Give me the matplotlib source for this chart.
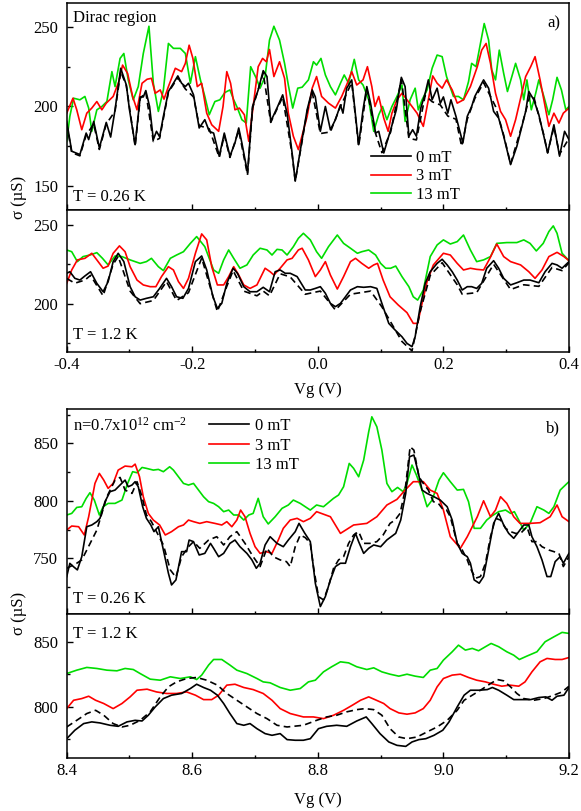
import matplotlib
matplotlib.use("Agg")
import matplotlib.pyplot as plt
from matplotlib.ticker import MultipleLocator, FuncFormatter
from matplotlib.lines import Line2D

plt.rcParams['font.family'] = ['Liberation Serif', 'DejaVu Serif']
plt.rcParams['font.size'] = 12
plt.rcParams['mathtext.fontset'] = 'custom'
plt.rcParams['mathtext.rm'] = 'Liberation Serif'
plt.rcParams['mathtext.it'] = 'Liberation Serif:italic'

# ---------------- panel a, T = 0.26 K ----------------
a_hi_k_x = [-0.400, -0.392, -0.379, -0.369, -0.365, -0.357, -0.348, -0.337, -0.330, -0.323, -0.314, -0.305,
            -0.300, -0.291, -0.283, -0.278, -0.274, -0.268, -0.262, -0.257, -0.252, -0.246, -0.238, -0.230,
            -0.223, -0.217, -0.211, -0.206, -0.198, -0.189, -0.180, -0.173, -0.166, -0.157, -0.149, -0.140,
            -0.132, -0.126, -0.121, -0.112, -0.104, -0.095, -0.087, -0.081, -0.075, -0.064, -0.056, -0.049,
            -0.041, -0.036, -0.026, -0.017, -0.009, -0.004, 0.004, 0.012, 0.020, 0.028, 0.036, 0.040, 0.046,
            0.054, 0.065, 0.072, 0.078, 0.084, 0.092, 0.097, 0.105, 0.116, 0.125, 0.133, 0.139, 0.145, 0.151,
            0.157, 0.164, 0.171, 0.176, 0.182, 0.190, 0.195, 0.200, 0.207, 0.212, 0.220, 0.231, 0.238, 0.245,
            0.250, 0.264, 0.272, 0.280, 0.288, 0.296, 0.307, 0.317, 0.325, 0.331, 0.336, 0.344, 0.352, 0.360,
            0.366, 0.376, 0.385, 0.393, 0.400]
a_hi_k_y = [190.6, 171.9, 169.8, 183.3, 179.2, 190.6, 174.0, 190.0, 180.8, 197.9, 224.0, 213.5,
            197.9, 176.0, 206.0, 206.0, 210.0, 200.0, 179.2, 184.4, 181.0, 193.8, 209.4, 214.6,
            219.2, 214.6, 212.5, 214.6, 207.3, 186.5, 191.7, 184.4, 183.3, 168.8, 183.3, 168.8,
            177.1, 186.5, 177.1, 158.3, 200.0, 210.4, 222.5, 218.8, 190.6, 200.0, 207.3, 195.8,
            170.8, 153.1, 177.0, 198.0, 210.4, 206.0, 184.4, 200.0, 185.4, 191.7, 201.0, 195.8, 211.5,
            216.7, 176.0, 198.0, 212.5, 202.0, 183.3, 184.4, 170.8, 185.4, 197.9, 218.3, 212.5, 181.3, 185.4,
            181.3, 199.0, 208.3, 216.7, 204.2, 211.5, 202.0, 206.0, 195.8, 204.2, 193.8, 177.1, 193.8, 200.0,
            206.3, 216.7, 211.5, 196.9, 192.7, 181.3, 163.5, 175.0, 187.5, 196.9, 209.4, 204.2, 194.8, 181.3,
            170.8, 188.5, 168.8, 184.4, 179.2]

a_hi_d_x = [-0.400, -0.392, -0.379, -0.369, -0.357, -0.348, -0.337, -0.323, -0.314, -0.305, -0.291, -0.283,
            -0.274, -0.262, -0.252, -0.238, -0.223, -0.211, -0.198, -0.189, -0.173, -0.157, -0.149, -0.140,
            -0.126, -0.112, -0.104, -0.087, -0.075, -0.056, -0.041, -0.036, -0.017, -0.009, 0.004, 0.020,
            0.036, 0.054, 0.065, 0.078, 0.092, 0.102, 0.116, 0.133, 0.145, 0.157, 0.171, 0.182, 0.195, 0.207,
            0.220, 0.229, 0.238, 0.250, 0.264, 0.283, 0.296, 0.307, 0.325, 0.338, 0.344, 0.360, 0.366, 0.376,
            0.385, 0.400]
a_hi_d_y = [189.0, 171.0, 169.0, 182.0, 189.0, 173.0, 189.0, 197.0, 222.0, 213.0, 175.0, 205.0,
            209.0, 178.0, 180.0, 209.0, 218.0, 211.0, 206.0, 188.0, 186.0, 168.0, 182.0, 168.0,
            185.0, 157.0, 199.0, 221.0, 190.0, 206.0, 170.0, 153.0, 197.0, 209.0, 183.0, 184.0,
            200.0, 215.0, 175.0, 211.0, 183.0, 171.0, 184.0, 217.0, 180.0, 179.0, 207.0, 203.0, 201.0, 194.0,
            192.0, 175.0, 192.0, 205.0, 215.0, 200.0, 182.0, 164.0, 188.0, 207.0, 206.0, 182.0, 171.0, 187.0,
            170.0, 180.0]

a_hi_r_x = [-0.400, -0.390, -0.384, -0.376, -0.368, -0.360, -0.352, -0.344, -0.337, -0.326, -0.317, -0.311,
            -0.303, -0.295, -0.288, -0.280, -0.272, -0.265, -0.259, -0.251, -0.245, -0.238, -0.227, -0.217,
            -0.211, -0.205, -0.199, -0.192, -0.185, -0.177, -0.169, -0.158, -0.151, -0.145, -0.139, -0.132,
            -0.125, -0.117, -0.110, -0.103, -0.095, -0.088, -0.082, -0.077, -0.070, -0.061, -0.053, -0.047,
            -0.039, -0.031, -0.017, -0.009, -0.002, 0.006, 0.017, 0.028, 0.038, 0.047, 0.054, 0.062, 0.072,
            0.079, 0.086, 0.091, 0.097, 0.105, 0.112, 0.118, 0.126, 0.134, 0.142, 0.150, 0.158, 0.168, 0.176,
            0.183, 0.190, 0.198, 0.205, 0.214, 0.222, 0.232, 0.243, 0.254, 0.261, 0.268, 0.275, 0.283, 0.291,
            0.299, 0.307, 0.315, 0.323, 0.331, 0.339, 0.346, 0.354, 0.360, 0.368, 0.376, 0.384, 0.391, 0.400]
a_hi_r_y = [195.8, 205.2, 197.9, 185.4, 195.8, 199.0, 203.1, 197.9, 202.1, 206.3, 215.6, 226.0,
            220.8, 206.3, 197.9, 214.6, 217.1, 217.7, 208.3, 210.4, 204.6, 212.5, 224.0, 221.9,
            227.1, 238.5, 230.2, 212.5, 214.6, 195.8, 188.5, 184.4, 200.0, 221.9, 214.6, 197.9,
            199.0, 194.8, 178.1, 200.0, 225.0, 230.2, 228.1, 235.8, 218.8, 228.1, 217.7, 195.8,
            181.3, 172.9, 193.8, 211.5, 218.8, 206.3, 202.1, 199.0, 206.3, 214.6, 221.9, 213.5, 216.7,
            225.0, 212.5, 200.0, 206.3, 192.7, 184.4, 195.8, 204.2, 208.3, 204.2, 200.0, 195.8, 187.5, 204.2,
            219.2, 214.6, 211.5, 216.7, 210.4, 202.1, 204.2, 212.5, 225.0, 235.4, 239.6, 227.1, 208.3, 196.9,
            191.7, 181.3, 191.7, 205.2, 218.8, 225.0, 231.3, 216.7, 204.2, 187.5, 195.8, 189.6, 195.8, 199.0]

a_hi_g_x = [-0.400, -0.395, -0.389, -0.379, -0.371, -0.365, -0.360, -0.352, -0.344, -0.336, -0.328, -0.323,
            -0.315, -0.309, -0.302, -0.294, -0.286, -0.278, -0.269, -0.262, -0.254, -0.246, -0.238, -0.230,
            -0.219, -0.211, -0.203, -0.195, -0.187, -0.180, -0.173, -0.164, -0.156, -0.148, -0.140, -0.134,
            -0.128, -0.121, -0.114, -0.107, -0.098, -0.092, -0.084, -0.077, -0.070, -0.061, -0.053, -0.047,
            -0.040, -0.032, -0.025, -0.015, -0.007, -0.002, 0.005, 0.012, 0.020, 0.028, 0.036, 0.042, 0.049,
            0.058, 0.065, 0.072, 0.081, 0.089, 0.097, 0.103, 0.110, 0.118, 0.126, 0.134, 0.139, 0.147, 0.155,
            0.160, 0.166, 0.174, 0.182, 0.190, 0.198, 0.205, 0.216, 0.224, 0.232, 0.240, 0.245, 0.252, 0.259,
            0.265, 0.272, 0.277, 0.283, 0.289, 0.296, 0.302, 0.309, 0.315, 0.323, 0.328, 0.333, 0.340, 0.347,
            0.352, 0.360, 0.368, 0.374, 0.381, 0.388, 0.395, 0.400]
a_hi_g_y = [178.1, 193.8, 205.2, 204.2, 206.3, 199.0, 184.4, 197.9, 200.0, 203.1, 221.9, 212.5,
            230.2, 233.3, 216.7, 204.2, 212.5, 233.3, 250.4, 214.6, 196.9, 210.4, 239.6, 236.5,
            236.5, 233.3, 214.6, 231.3, 216.7, 206.3, 194.8, 203.1, 204.2, 208.8, 210.4, 204.2,
            199.0, 191.7, 189.6, 225.0, 217.7, 211.5, 218.8, 241.7, 250.4, 241.7, 227.1, 213.5,
            199.0, 211.5, 212.1, 216.7, 228.1, 226.0, 230.2, 219.8, 212.5, 207.3, 214.6, 219.8, 214.6,
            229.6, 216.7, 213.5, 204.2, 184.4, 194.8, 200.0, 191.7, 200.0, 206.3, 213.5, 190.6, 204.2, 211.5,
            197.9, 204.2, 210.4, 224.0, 232.3, 231.3, 218.8, 206.3, 206.3, 204.2, 215.6, 227.1, 225.0, 239.6,
            252.1, 241.7, 222.9, 216.7, 235.4, 220.8, 209.4, 218.8, 227.1, 216.7, 204.2, 216.7, 197.9, 208.3,
            216.7, 206.3, 194.8, 204.2, 218.3, 210.4, 197.9, 200.0]

# ---------------- panel a, T = 1.2 K ----------------
a_lo_k_x = [-0.400, -0.395, -0.387, -0.379, -0.371, -0.362, -0.352, -0.342, -0.334, -0.326, -0.318, -0.309,
            -0.299, -0.291, -0.283, -0.273, -0.262, -0.252, -0.241, -0.233, -0.225, -0.215, -0.206, -0.195,
            -0.185, -0.177, -0.167, -0.160, -0.153, -0.145, -0.135, -0.128, -0.118, -0.108, -0.097, -0.087,
            -0.077, -0.068, -0.060, -0.052, -0.044, -0.033, -0.020, -0.012, -0.004, 0.004, 0.012, 0.020,
            0.028, 0.036, 0.044, 0.052, 0.063, 0.073, 0.084, 0.094, 0.102, 0.113, 0.123, 0.134, 0.142, 0.150,
            0.155, 0.163, 0.171, 0.179, 0.190, 0.198, 0.206, 0.214, 0.222, 0.230, 0.238, 0.245, 0.253, 0.261,
            0.269, 0.280, 0.288, 0.296, 0.307, 0.317, 0.328, 0.338, 0.352, 0.362, 0.373, 0.381, 0.389, 0.400]
a_lo_k_y = [219.3, 220.3, 216.1, 215.0, 217.6, 220.3, 212.9, 207.6, 214.0, 226.7, 232.0, 226.7,
            210.8, 204.4, 202.3, 203.4, 204.4, 209.7, 216.1, 210.8, 204.4, 203.4, 209.7, 226.7,
            230.3, 221.4, 204.4, 197.0, 200.2, 212.9, 222.5, 219.3, 210.8, 207.6, 207.6, 210.4,
            207.6, 220.3, 221.4, 219.3, 219.3, 217.2, 208.7, 208.7, 209.7, 210.8, 206.6, 200.2,
            198.1, 200.2, 204.4, 208.7, 210.8, 210.4, 210.8, 209.7, 200.2, 187.5, 183.3, 179.0, 174.8, 172.7,
            179.0, 198.1, 212.9, 220.3, 225.6, 228.2, 224.6, 220.3, 215.0, 208.7, 210.8, 210.8, 209.7, 212.9,
            222.5, 227.3, 222.5, 216.1, 211.9, 213.3, 215.0, 215.0, 213.3, 220.3, 225.6, 224.6, 222.5, 226.7]

a_lo_d_x = [-0.400, -0.387, -0.371, -0.362, -0.342, -0.326, -0.318, -0.299, -0.283, -0.262, -0.241, -0.225,
            -0.206, -0.185, -0.160, -0.145, -0.135, -0.118, -0.097, -0.087, -0.077, -0.060, -0.044, -0.020,
            0.004, 0.028, 0.052, 0.084, 0.102, 0.134, 0.150, 0.163, 0.179, 0.198, 0.222, 0.230, 0.253, 0.280,
            0.307, 0.328, 0.352, 0.373, 0.389, 0.400]
a_lo_d_y = [216.0, 213.0, 215.0, 218.0, 205.0, 225.0, 230.0, 208.0, 200.0, 202.0, 214.0, 202.0,
            207.0, 229.0, 195.0, 211.0, 221.0, 208.0, 205.0, 208.0, 205.0, 219.0, 217.0, 206.0,
            208.0, 196.0, 206.0, 208.0, 198.0, 176.0, 170.0, 195.0, 218.0, 226.0, 212.0, 206.0, 207.0, 225.0,
            209.0, 212.0, 211.0, 223.0, 221.0, 226.0]

a_lo_r_x = [-0.400, -0.392, -0.383, -0.371, -0.360, -0.352, -0.342, -0.334, -0.326, -0.316, -0.307, -0.299,
            -0.288, -0.278, -0.267, -0.258, -0.249, -0.238, -0.230, -0.222, -0.214, -0.206, -0.195, -0.185,
            -0.177, -0.169, -0.160, -0.150, -0.142, -0.134, -0.126, -0.118, -0.108, -0.097, -0.084, -0.076,
            -0.070, -0.060, -0.049, -0.041, -0.031, -0.025, -0.015, -0.004, 0.004, 0.012, 0.020, 0.031, 0.041,
            0.052, 0.060, 0.070, 0.081, 0.089, 0.095, 0.104, 0.115, 0.128, 0.142, 0.152, 0.159, 0.166, 0.174,
            0.184, 0.200, 0.211, 0.222, 0.232, 0.243, 0.253, 0.264, 0.274, 0.285, 0.296, 0.307, 0.323, 0.336,
            0.346, 0.357, 0.368, 0.381, 0.392, 0.400]
a_lo_r_y = [212.9, 221.4, 227.8, 228.8, 232.0, 227.8, 222.5, 223.9, 232.0, 236.7, 233.0, 223.5,
            215.0, 211.9, 210.8, 210.8, 217.2, 223.5, 221.4, 214.0, 209.7, 216.1, 232.0, 244.3,
            240.5, 223.5, 211.9, 211.9, 217.2, 223.5, 218.2, 211.9, 209.7, 211.9, 222.5, 220.3,
            218.2, 222.5, 227.8, 228.8, 234.1, 235.2, 227.8, 217.2, 221.4, 226.7, 218.2, 209.3, 217.2,
            226.7, 228.8, 225.6, 222.5, 224.6, 225.6, 215.0, 204.4, 199.2, 194.3, 187.5, 187.5, 200.2, 214.0,
            224.6, 232.0, 230.9, 225.6, 221.4, 222.5, 221.8, 221.4, 228.8, 237.9, 229.9, 226.7, 224.6, 220.3,
            216.1, 221.4, 229.9, 232.6, 229.9, 227.3]

a_lo_g_x = [-0.400, -0.392, -0.383, -0.374, -0.363, -0.352, -0.343, -0.334, -0.323, -0.312, -0.299, -0.283,
            -0.273, -0.265, -0.254, -0.246, -0.235, -0.225, -0.214, -0.203, -0.193, -0.180, -0.166, -0.158,
            -0.150, -0.142, -0.134, -0.124, -0.113, -0.103, -0.092, -0.081, -0.073, -0.065, -0.057, -0.049,
            -0.039, -0.031, -0.023, -0.012, -0.002, 0.006, 0.017, 0.031, 0.041, 0.052, 0.063, 0.070, 0.081,
            0.092, 0.100, 0.108, 0.116, 0.124, 0.134, 0.145, 0.152, 0.159, 0.168, 0.179, 0.190, 0.200, 0.211,
            0.222, 0.232, 0.243, 0.253, 0.264, 0.275, 0.285, 0.301, 0.317, 0.328, 0.338, 0.348, 0.359, 0.368,
            0.375, 0.381, 0.389, 0.400]
a_lo_g_y = [234.1, 233.0, 226.7, 229.9, 230.9, 232.4, 228.8, 224.6, 230.3, 229.9, 227.8, 225.6,
            226.7, 228.8, 223.5, 221.0, 228.8, 230.9, 233.0, 238.3, 242.6, 236.2, 221.4, 219.3,
            227.8, 234.1, 228.8, 222.5, 224.6, 230.9, 235.2, 234.1, 230.9, 234.5, 234.1, 230.9,
            236.2, 241.5, 244.7, 240.5, 233.0, 228.8, 236.2, 243.6, 238.3, 235.2, 232.0, 233.0, 234.1,
            230.9, 225.6, 222.5, 222.5, 223.9, 217.2, 210.8, 204.4, 202.3, 208.7, 229.9, 237.3, 240.5, 237.9,
            239.4, 243.6, 234.1, 226.7, 227.8, 229.9, 238.3, 238.8, 238.8, 240.5, 238.3, 233.5, 238.3, 245.8,
            249.4, 244.7, 232.0, 227.3]

# ---------------- panel b, T = 0.26 K ----------------
b_hi_k_x = [8.400, 8.405, 8.411, 8.417, 8.424, 8.432, 8.440, 8.448, 8.453, 8.461, 8.469, 8.477, 8.485, 8.493,
            8.498, 8.504, 8.509, 8.514, 8.521, 8.527, 8.534, 8.539, 8.546, 8.554, 8.562, 8.567, 8.574, 8.583,
            8.591, 8.595, 8.602, 8.611, 8.620, 8.629, 8.634, 8.642, 8.650, 8.660, 8.668, 8.676, 8.687, 8.695,
            8.702, 8.708, 8.716, 8.724, 8.735, 8.745, 8.753, 8.764, 8.770, 8.779, 8.788, 8.796, 8.804, 8.812,
            8.820, 8.828, 8.836, 8.844, 8.852, 8.860, 8.865, 8.873, 8.881, 8.889, 8.900, 8.910, 8.924, 8.932,
            8.940, 8.946, 8.953, 8.959, 8.966, 8.974, 8.985, 8.995, 9.006, 9.014, 9.022, 9.030, 9.038, 9.043,
            9.049, 9.057, 9.064, 9.072, 9.080, 9.088, 9.096, 9.104, 9.112, 9.120, 9.128, 9.136, 9.141, 9.149,
            9.157, 9.165, 9.171, 9.178, 9.186, 9.191, 9.200]
b_hi_k_y = [734.0, 745.6, 742.6, 739.9, 751.4, 777.5, 779.0, 781.9, 784.8, 799.3, 808.0, 809.4, 813.8, 818.1,
            812.3, 813.8, 816.7, 812.3, 794.9, 784.8, 779.0, 773.2, 777.5, 757.2, 737.0, 726.8, 731.2, 755.8,
            755.8, 765.9, 764.5, 752.9, 754.3, 763.0, 758.7, 751.4, 754.3, 763.0, 765.9, 760.1, 754.3, 748.6,
            741.3, 745.6, 761.6, 768.8, 763.0, 760.1, 765.9, 773.2, 780.4, 772.0, 764.5, 728.3, 708.0, 716.7,
            731.2, 742.8, 745.7, 745.7, 760.1, 771.7, 764.5, 754.3, 758.7, 761.6, 760.1, 766.0, 771.7, 783.3,
            806.5, 838.4, 839.9, 826.8, 809.4, 806.5, 803.6, 800.7, 794.9, 783.3, 763.0, 754.3, 751.4, 745.7,
            731.2, 728.3, 734.1, 757.2, 780.4, 789.1, 779.0, 771.7, 767.4, 773.2, 779.0, 779.0, 768.8, 760.1,
            748.6, 734.1, 734.1, 747.1, 751.4, 745.7, 754.3]

b_hi_d_x = [8.400, 8.416, 8.424, 8.432, 8.448, 8.464, 8.477, 8.485, 8.493, 8.504, 8.512, 8.520, 8.527, 8.535,
            8.543, 8.554, 8.565, 8.574, 8.583, 8.594, 8.602, 8.612, 8.626, 8.639, 8.650, 8.660, 8.671, 8.684,
            8.697, 8.708, 8.719, 8.729, 8.740, 8.750, 8.756, 8.764, 8.772, 8.780, 8.788, 8.793, 8.801, 8.809,
            8.817, 8.825, 8.833, 8.841, 8.849, 8.857, 8.865, 8.873, 8.883, 8.894, 8.904, 8.915, 8.923, 8.931,
            8.939, 8.947, 8.953, 8.961, 8.968, 8.976, 8.984, 8.992, 9.000, 9.005, 9.011, 9.022, 9.030, 9.038,
            9.043, 9.051, 9.059, 9.067, 9.075, 9.083, 9.091, 9.099, 9.107, 9.115, 9.123, 9.133, 9.141, 9.149,
            9.157, 9.168, 9.176, 9.184, 9.191, 9.200]
b_hi_d_y = [741.3, 745.7, 748.6, 757.2, 774.6, 803.6, 818.1, 820.4, 809.4, 806.5, 816.7, 803.6, 787.7, 781.9,
            773.2, 761.6, 739.9, 733.5, 751.4, 760.1, 764.5, 758.7, 765.9, 768.8, 761.6, 768.8, 773.2, 763.0,
            751.4, 742.8, 758.7, 751.4, 748.6, 747.1, 742.8, 760.1, 770.3, 768.0, 763.0, 742.8, 716.7, 713.8,
            725.4, 741.3, 748.6, 751.4, 763.0, 770.3, 773.2, 763.0, 763.0, 764.5, 770.3, 780.4, 783.3, 789.1,
            809.4, 847.1, 844.2, 821.0, 815.2, 809.4, 799.3, 797.8, 792.0, 792.0, 786.2, 763.0, 757.2, 748.6,
            741.3, 732.6, 734.1, 745.7, 768.8, 784.8, 783.3, 776.1, 773.2, 771.7, 771.7, 777.5, 764.5, 764.5,
            760.1, 757.2, 755.8, 754.3, 742.8, 751.4]

b_hi_r_x = [8.400, 8.408, 8.419, 8.428, 8.435, 8.445, 8.452, 8.459, 8.466, 8.474, 8.482, 8.493, 8.504, 8.509,
            8.516, 8.522, 8.530, 8.538, 8.548, 8.557, 8.567, 8.578, 8.586, 8.594, 8.602, 8.612, 8.623, 8.636,
            8.647, 8.655, 8.663, 8.671, 8.677, 8.684, 8.692, 8.700, 8.708, 8.718, 8.727, 8.737, 8.745, 8.756,
            8.767, 8.777, 8.788, 8.798, 8.820, 8.836, 8.857, 8.878, 8.894, 8.910, 8.926, 8.939, 8.952, 8.968,
            8.979, 8.990, 9.000, 9.011, 9.027, 9.038, 9.054, 9.064, 9.075, 9.083, 9.091, 9.101, 9.112, 9.122,
            9.138, 9.154, 9.170, 9.181, 9.189, 9.200]
b_hi_r_y = [774.6, 778.1, 777.5, 770.3, 786.2, 815.2, 823.9, 818.1, 810.9, 815.2, 826.8, 830.3, 829.7, 832.0,
            821.0, 803.6, 789.1, 783.3, 779.0, 770.3, 773.2, 777.5, 779.0, 783.3, 781.9, 780.4, 781.9, 780.4,
            779.0, 781.9, 777.5, 783.3, 792.0, 786.2, 771.7, 760.1, 754.3, 755.8, 754.3, 765.9, 776.1, 783.3,
            784.8, 781.9, 784.8, 790.6, 786.2, 771.7, 779.0, 780.4, 786.2, 796.4, 801.3, 809.4, 816.7, 816.7,
            809.4, 806.5, 792.0, 768.8, 758.7, 768.8, 786.2, 800.1, 786.2, 792.0, 803.6, 797.8, 786.2, 780.4,
            780.4, 781.0, 786.2, 796.4, 786.2, 781.9]

b_hi_g_x = [8.400, 8.408, 8.416, 8.424, 8.431, 8.437, 8.444, 8.452, 8.458, 8.466, 8.477, 8.488, 8.497, 8.505,
            8.512, 8.520, 8.527, 8.538, 8.546, 8.554, 8.564, 8.570, 8.578, 8.586, 8.594, 8.602, 8.610, 8.618,
            8.626, 8.634, 8.642, 8.650, 8.658, 8.666, 8.674, 8.682, 8.690, 8.697, 8.705, 8.713, 8.721, 8.732,
            8.743, 8.753, 8.761, 8.772, 8.788, 8.798, 8.809, 8.825, 8.833, 8.841, 8.850, 8.857, 8.865, 8.873,
            8.881, 8.886, 8.894, 8.902, 8.910, 8.918, 8.927, 8.936, 8.942, 8.950, 8.957, 8.966, 8.974, 8.982,
            8.993, 9.000, 9.011, 9.022, 9.032, 9.040, 9.049, 9.059, 9.069, 9.077, 9.088, 9.099, 9.107, 9.113,
            9.120, 9.128, 9.138, 9.149, 9.160, 9.168, 9.176, 9.186, 9.197, 9.200]
b_hi_g_y = [787.7, 789.1, 794.3, 794.9, 802.2, 807.1, 800.7, 787.7, 794.9, 797.8, 797.8, 800.7, 815.2, 825.4,
            824.5, 829.1, 828.3, 826.8, 827.4, 825.4, 829.7, 826.8, 821.0, 815.2, 813.8, 815.2, 809.4, 803.6,
            799.3, 797.8, 794.9, 790.6, 792.0, 787.7, 787.7, 783.3, 787.7, 789.1, 802.2, 786.2, 779.9, 786.2,
            793.5, 796.4, 800.7, 797.8, 792.0, 796.4, 794.9, 802.2, 805.1, 812.3, 832.6, 828.3, 821.0, 835.5,
            860.1, 873.2, 864.5, 844.2, 815.2, 808.0, 811.7, 808.0, 815.2, 831.2, 822.5, 809.4, 794.9, 800.7,
            818.1, 824.5, 816.7, 809.4, 810.0, 799.3, 776.1, 776.1, 783.3, 786.8, 790.6, 792.0, 789.1, 790.6,
            783.3, 774.6, 780.4, 794.9, 792.0, 789.1, 794.9, 809.4, 815.2, 816.7]

# ---------------- panel b, T = 1.2 K ----------------
b_lo_k_x = [8.400, 8.413, 8.427, 8.440, 8.453, 8.469, 8.482, 8.496, 8.509, 8.520, 8.530, 8.541, 8.554, 8.567,
            8.583, 8.597, 8.607, 8.618, 8.629, 8.640, 8.650, 8.660, 8.671, 8.682, 8.692, 8.703, 8.716, 8.727,
            8.740, 8.751, 8.764, 8.777, 8.788, 8.801, 8.814, 8.830, 8.846, 8.862, 8.877, 8.886, 8.899, 8.913,
            8.926, 8.940, 8.950, 8.961, 8.972, 8.985, 8.999, 9.009, 9.022, 9.033, 9.043, 9.057, 9.070, 9.078,
            9.088, 9.101, 9.112, 9.125, 9.139, 9.152, 9.163, 9.173, 9.181, 9.192, 9.200]
b_lo_k_y = [775.6, 782.1, 787.2, 788.5, 787.7, 785.9, 785.1, 788.5, 789.7, 789.2, 793.6, 800.0, 806.4, 809.0,
            810.3, 814.1, 817.4, 814.9, 812.8, 809.0, 802.6, 794.9, 787.2, 785.9, 787.2, 783.3, 779.5, 778.2,
            779.5, 774.9, 774.4, 774.4, 775.6, 783.3, 785.1, 785.9, 785.1, 789.2, 792.3, 787.2, 779.5, 773.1,
            770.5, 769.7, 773.1, 774.9, 775.6, 778.2, 782.1, 788.5, 800.0, 809.0, 812.8, 812.8, 813.3, 814.9,
            812.8, 809.0, 805.6, 805.6, 805.6, 807.2, 807.7, 805.1, 808.2, 809.0, 814.9]

b_lo_d_x = [8.400, 8.416, 8.432, 8.446, 8.459, 8.474, 8.488, 8.501, 8.517, 8.533, 8.549, 8.562, 8.575, 8.591,
            8.607, 8.623, 8.640, 8.655, 8.671, 8.687, 8.703, 8.719, 8.735, 8.751, 8.777, 8.798, 8.814, 8.830,
            8.846, 8.862, 8.875, 8.889, 8.902, 8.915, 8.929, 8.942, 8.958, 8.974, 8.990, 9.006, 9.022, 9.033,
            9.046, 9.059, 9.075, 9.086, 9.096, 9.107, 9.117, 9.128, 9.144, 9.160, 9.176, 9.189, 9.200]
b_lo_d_y = [784.6, 789.7, 794.9, 797.4, 793.6, 787.2, 784.6, 785.9, 789.7, 796.2, 807.7, 815.4, 819.2, 821.8,
            822.6, 820.5, 816.7, 810.3, 805.1, 800.0, 794.9, 791.0, 785.9, 784.6, 785.9, 789.7, 792.3, 793.6,
            796.2, 797.9, 798.7, 797.9, 793.6, 783.3, 776.9, 775.6, 776.9, 780.8, 784.6, 789.7, 797.4, 805.1,
            809.0, 812.8, 817.9, 821.0, 820.0, 815.4, 810.3, 806.4, 805.1, 806.4, 809.0, 811.5, 815.9]

b_lo_r_x = [8.400, 8.411, 8.424, 8.435, 8.446, 8.459, 8.474, 8.488, 8.501, 8.512, 8.528, 8.543, 8.559, 8.575,
            8.591, 8.605, 8.618, 8.631, 8.642, 8.655, 8.668, 8.682, 8.697, 8.713, 8.727, 8.740, 8.756, 8.777,
            8.793, 8.809, 8.825, 8.841, 8.855, 8.868, 8.881, 8.891, 8.905, 8.915, 8.929, 8.942, 8.955, 8.968,
            8.979, 8.990, 9.000, 9.014, 9.027, 9.040, 9.053, 9.067, 9.080, 9.093, 9.106, 9.120, 9.130, 9.141,
            9.154, 9.165, 9.178, 9.189, 9.200]
b_lo_r_y = [798.7, 805.1, 806.4, 808.2, 805.1, 802.6, 798.7, 802.6, 807.7, 812.8, 813.6, 811.5, 810.3, 810.3,
            811.5, 809.0, 805.6, 805.6, 809.0, 816.7, 817.4, 814.9, 813.3, 810.3, 805.1, 798.7, 794.9, 792.3,
            792.3, 791.0, 793.6, 797.4, 801.3, 805.1, 807.7, 805.6, 802.6, 798.7, 795.4, 794.4, 795.4, 798.7,
            805.1, 815.4, 821.8, 824.4, 825.1, 822.6, 820.5, 819.2, 817.4, 815.9, 816.7, 815.9, 819.2, 826.9,
            834.6, 837.2, 836.4, 836.4, 837.9]

b_lo_g_x = [8.400, 8.416, 8.432, 8.448, 8.464, 8.480, 8.493, 8.506, 8.517, 8.533, 8.549, 8.565, 8.581, 8.597,
            8.607, 8.615, 8.626, 8.634, 8.647, 8.660, 8.671, 8.687, 8.703, 8.713, 8.724, 8.740, 8.756, 8.772,
            8.785, 8.796, 8.809, 8.822, 8.836, 8.849, 8.862, 8.878, 8.889, 8.902, 8.915, 8.929, 8.942, 8.955,
            8.968, 8.979, 8.990, 9.000, 9.014, 9.024, 9.035, 9.046, 9.056, 9.067, 9.076, 9.088, 9.101, 9.112,
            9.121, 9.133, 9.149, 9.162, 9.176, 9.189, 9.200]
b_lo_g_y = [825.6, 828.2, 830.3, 829.5, 828.2, 827.7, 829.5, 828.7, 825.6, 821.3, 820.5, 823.1, 821.8, 823.1,
            821.0, 824.4, 832.1, 836.4, 836.4, 832.1, 828.2, 825.6, 821.8, 819.2, 818.5, 814.9, 812.8, 814.1,
            819.2, 820.5, 826.9, 830.8, 834.6, 833.8, 830.8, 828.7, 830.0, 826.9, 825.1, 823.6, 825.1, 823.6,
            822.6, 828.2, 829.5, 835.9, 842.3, 847.4, 843.6, 844.9, 843.1, 846.2, 848.7, 846.2, 842.3, 839.7,
            836.4, 839.0, 842.3, 850.0, 853.8, 857.2, 856.4]

labels = ["0 mT", "3 mT", "13 mT"]
red = "#ff0000"
green = "#00dd00"


def draw(ax, k, d, r, g):
    ax.plot(g[0], g[1], color=green, lw=1.2)
    ax.plot(r[0], r[1], color=red, lw=1.2)
    ax.plot(d[0], d[1], color="black", lw=1.2, ls=(0, (4, 2.5)))
    ax.plot(k[0], k[1], color="black", lw=1.2)


def style(ax, xmaj, ymaj, show_x=True):
    ax.xaxis.set_major_locator(MultipleLocator(xmaj))
    ax.xaxis.set_minor_locator(MultipleLocator(xmaj / 2))
    ax.yaxis.set_major_locator(MultipleLocator(ymaj))
    ax.yaxis.set_minor_locator(MultipleLocator(ymaj / 2))
    ax.tick_params(which="both", direction="in", top=False, right=False)
    ax.tick_params(which="major", length=4, width=1)
    ax.tick_params(which="minor", length=2.5, width=1)
    ax.tick_params(axis="y", pad=6)
    if not show_x:
        ax.tick_params(axis="x", labelbottom=False)
    for s in ax.spines.values():
        s.set_linewidth(1.1)


fig = plt.figure(figsize=(5.81, 8.11), dpi=100)
ax1 = fig.add_axes([0.1148, 0.7411, 0.8645, 0.2552])
ax2 = fig.add_axes([0.1148, 0.5663, 0.8645, 0.1748])
ax3 = fig.add_axes([0.1148, 0.2429, 0.8645, 0.2528])
ax4 = fig.add_axes([0.1148, 0.0657, 0.8645, 0.1772])

draw(ax1, (a_hi_k_x, a_hi_k_y), (a_hi_d_x, a_hi_d_y), (a_hi_r_x, a_hi_r_y), (a_hi_g_x, a_hi_g_y))
draw(ax2, (a_lo_k_x, a_lo_k_y), (a_lo_d_x, a_lo_d_y), (a_lo_r_x, a_lo_r_y), (a_lo_g_x, a_lo_g_y))
draw(ax3, (b_hi_k_x, b_hi_k_y), (b_hi_d_x, b_hi_d_y), (b_hi_r_x, b_hi_r_y), (b_hi_g_x, b_hi_g_y))
draw(ax4, (b_lo_k_x, b_lo_k_y), (b_lo_d_x, b_lo_d_y), (b_lo_r_x, b_lo_r_y), (b_lo_g_x, b_lo_g_y))

ax1.set_xlim(-0.4, 0.4); ax1.set_ylim(135, 265)
ax2.set_xlim(-0.4, 0.4); ax2.set_ylim(169.5, 259.5)
ax3.set_xlim(8.4, 9.2); ax3.set_ylim(701.5, 880)
ax4.set_xlim(8.4, 9.2); ax4.set_ylim(761, 871.3)

style(ax1, 0.2, 50, show_x=False)
style(ax2, 0.2, 50)
style(ax3, 0.2, 50, show_x=False)
style(ax4, 0.2, 50)
ax2.xaxis.set_major_formatter(FuncFormatter(lambda v, p: "%.1f" % v))

# legends
handles = [Line2D([], [], color="black", lw=1.2), Line2D([], [], color=red, lw=1.2),
           Line2D([], [], color=green, lw=1.2)]
ax1.legend(handles, labels, loc="upper left", bbox_to_anchor=(0.605, 0.29), frameon=False,
           borderpad=0, borderaxespad=0, handlelength=2.4, handletextpad=0.35, labelspacing=0.15)
ax3.legend(handles, labels, loc="upper left", bbox_to_anchor=(0.283, 0.955), frameon=False,
           borderpad=0, borderaxespad=0, handlelength=2.4, handletextpad=0.35, labelspacing=0.2)

# annotations
ax1.text(0.012, 0.928, "Dirac region", transform=ax1.transAxes, va="center", ha="left")
ax1.text(0.983, 0.903, "a)", transform=ax1.transAxes, va="center", ha="right")
ax1.text(0.012, 0.064, "T = 0.26 K", transform=ax1.transAxes, va="center", ha="left")
ax2.text(0.012, 0.118, "T = 1.2 K", transform=ax2.transAxes, va="center", ha="left")
ax3.text(0.012, 0.92, r"n=0.7x10$^{12}$ cm$^{-2}$", transform=ax3.transAxes, va="center", ha="left")
ax3.text(0.983, 0.907, "b)", transform=ax3.transAxes, va="center", ha="right")
ax3.text(0.012, 0.072, "T = 0.26 K", transform=ax3.transAxes, va="center", ha="left")
ax4.text(0.012, 0.861, "T = 1.2 K", transform=ax4.transAxes, va="center", ha="left")

fig.text(0.032, 0.757, "σ (µS)", rotation=90, va="center", ha="center")
fig.text(0.032, 0.244, "σ (µS)", rotation=90, va="center", ha="center")
fig.text(0.547, 0.519, "Vg (V)", va="center", ha="center")
fig.text(0.547, 0.0136, "Vg (V)", va="center", ha="center")

fig.savefig("out.png", dpi=100)
